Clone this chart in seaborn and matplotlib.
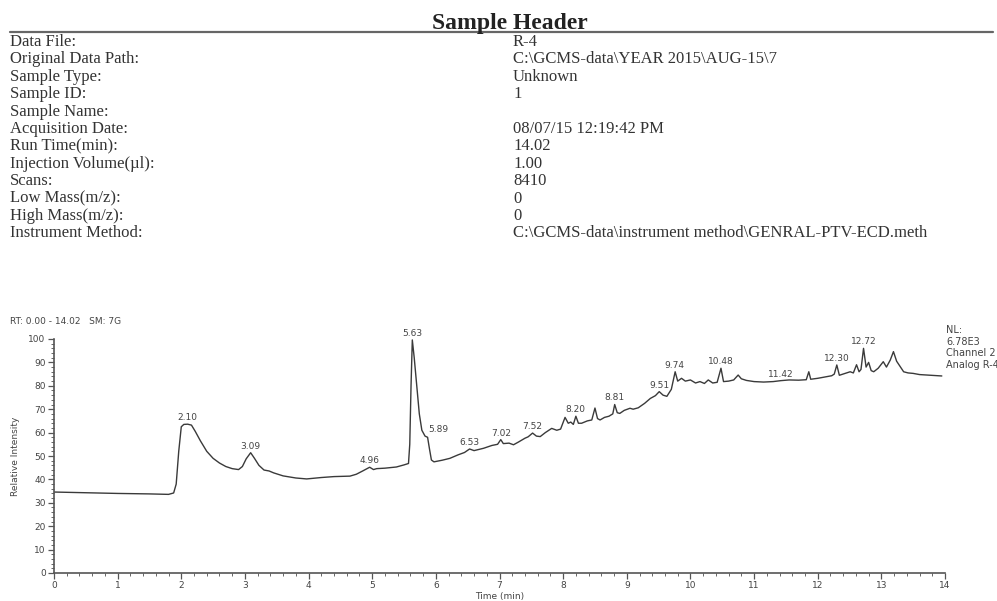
import numpy as np
import pandas as pd
import matplotlib
matplotlib.use("Agg")
import matplotlib.pyplot as plt
from matplotlib.lines import Line2D
from matplotlib.ticker import MultipleLocator
import seaborn as sns

# Sample header fields
header_keys = ["Data File:", "Original Data Path:", "Sample Type:", "Sample ID:",
               "Sample Name:", "Acquisition Date:", "Run Time(min):",
               "Injection Volume(\u00b5l):", "Scans:", "Low Mass(m/z):",
               "High Mass(m/z):", "Instrument Method:"]
header_vals = ["R-4", r"C:\GCMS-data\YEAR 2015\AUG-15\7", "Unknown", "1", "",
               "08/07/15 12:19:42 PM", "14.02", "1.00", "8410", "0", "0",
               r"C:\GCMS-data\instrument method\GENRAL-PTV-ECD.meth"]

# chromatogram trace (time in min, relative intensity)
rt = [0.00, 0.50, 1.00, 1.50, 1.80, 1.88, 1.92, 1.96, 2.00, 2.04, 2.10, 2.16, 2.22,
      2.30, 2.40, 2.50, 2.60, 2.70, 2.80, 2.90, 2.96, 3.02, 3.09, 3.15, 3.22, 3.30,
      3.38, 3.45, 3.60, 3.80, 3.97, 4.20, 4.40, 4.65, 4.75, 4.85, 4.96, 5.02, 5.07,
      5.20, 5.38, 5.50, 5.57, 5.59, 5.61, 5.63, 5.66, 5.70, 5.74, 5.78, 5.83, 5.87,
      5.90, 5.93, 5.97, 6.10, 6.22, 6.35, 6.45, 6.53, 6.60, 6.75, 6.88, 6.97, 7.02,
      7.06, 7.15, 7.22, 7.30, 7.40, 7.45, 7.52, 7.58, 7.64, 7.72, 7.82, 7.90, 7.96,
      8.03, 8.08, 8.12, 8.16, 8.20, 8.24, 8.29, 8.38, 8.45, 8.50, 8.54, 8.58, 8.65,
      8.72, 8.78, 8.81, 8.85, 8.89, 8.96, 9.05, 9.10, 9.18, 9.28, 9.37, 9.45, 9.51,
      9.57, 9.63, 9.70, 9.76, 9.80, 9.86, 9.92, 10.00, 10.08, 10.15, 10.22, 10.28,
      10.35, 10.42, 10.48, 10.52, 10.60, 10.68, 10.75, 10.80, 10.88, 11.00, 11.15,
      11.30, 11.42, 11.55, 11.70, 11.82, 11.86, 11.89, 12.00, 12.14, 12.22, 12.26,
      12.30, 12.34, 12.42, 12.51, 12.56, 12.61, 12.65, 12.68, 12.72, 12.76, 12.80,
      12.84, 12.88, 12.95, 13.03, 13.08, 13.14, 13.19, 13.24, 13.30, 13.35, 13.42,
      13.50, 13.60, 13.71, 13.85, 13.95]
intensity = [34.6, 34.3, 34.0, 33.8, 33.6, 34.2, 38.0, 52.0, 62.5, 63.5, 63.6, 63.2, 60.5,
             56.5, 52.0, 49.0, 47.0, 45.5, 44.6, 44.2, 45.5, 48.8, 51.4, 49.0, 46.0, 44.0,
             43.6, 42.8, 41.5, 40.6, 40.2, 40.8, 41.2, 41.4, 42.2, 43.6, 45.2, 44.2, 44.6,
             44.8, 45.3, 46.2, 46.8, 55.0, 80.0, 99.6, 92.0, 80.0, 68.0, 61.0, 58.5, 58.0,
             53.0, 48.3, 47.5, 48.2, 49.0, 50.5, 51.5, 53.0, 52.3, 53.3, 54.5, 55.0, 57.0,
             55.3, 55.5, 54.8, 56.0, 57.6, 58.2, 59.8, 58.5, 58.3, 60.0, 61.8, 61.0, 61.5,
             66.5, 64.0, 64.5, 63.5, 67.0, 64.0, 64.0, 65.0, 65.4, 70.5, 66.0, 65.4, 66.5,
             67.0, 68.0, 72.0, 68.5, 68.2, 69.5, 70.4, 70.0, 70.6, 72.5, 74.6, 75.8, 77.5,
             76.0, 75.5, 78.5, 86.0, 82.0, 83.2, 82.0, 82.5, 81.2, 81.8, 81.0, 82.5,
             81.2, 81.5, 87.5, 81.8, 82.0, 82.5, 84.6, 83.0, 82.3, 81.8, 81.6,
             81.8, 82.2, 82.5, 82.4, 82.6, 86.0, 82.8, 83.2, 83.9, 84.3, 85.0,
             88.9, 84.5, 85.2, 86.0, 85.5, 89.0, 86.0, 87.0, 96.0, 88.0, 90.0,
             86.5, 86.0, 87.5, 90.3, 88.0, 91.0, 94.6, 90.5, 88.0, 86.0, 85.5,
             85.3, 84.8, 84.6, 84.3, 84.2]

# labelled peaks
peak_times = [2.10, 3.09, 4.96, 5.63, 5.89, 6.53, 7.02, 7.52, 8.20, 8.81,
              9.51, 9.74, 10.48, 11.42, 12.30, 12.72]
peak_labels = ["2.10", "3.09", "4.96", "5.63", "5.89", "6.53", "7.02", "7.52", "8.20",
               "8.81", "9.51", "9.74", "10.48", "11.42", "12.30", "12.72"]

df = pd.DataFrame({"rt": rt, "intensity": intensity})

W, H = 997, 601
sns.set_style("white")
plt.rcParams["font.family"] = ["DejaVu Sans"]

fig = plt.figure(figsize=(W / 100, H / 100), dpi=100)

# ---- header block ----
serif = ["Liberation Serif", "DejaVu Serif"]
fig.text(510 / W, 1 - 29 / H, "Sample Header", ha="center", va="baseline",
         fontsize=17, fontweight="bold", family=serif, color="#222222")
fig.add_artist(Line2D([10 / W, 993 / W], [1 - 32 / H] * 2, color="#666666", lw=1.6))
for i, (k, v) in enumerate(zip(header_keys, header_vals)):
    y = 1 - (42 + i * 17.4) / H
    fig.text(10 / W, y, k, ha="left", va="center", fontsize=12, family=serif, color="#333333")
    fig.text(513 / W, y, v, ha="left", va="center", fontsize=12, family=serif, color="#333333")

# ---- chromatogram ----
ax = fig.add_axes([54 / W, 1 - 573 / H, (945 - 54) / W, (573 - 339) / H])
sns.lineplot(data=df, x="rt", y="intensity", ax=ax, sort=False, color="#3a3a3a",
             linewidth=1.0, estimator=None)
ax.set_xlim(0, 14)
ax.set_ylim(0, 100)
sns.despine(ax=ax)
for s in ["left", "bottom"]:
    ax.spines[s].set_color("#555555")
    ax.spines[s].set_linewidth(1.2)

ax.xaxis.set_major_locator(MultipleLocator(1))
ax.xaxis.set_minor_locator(MultipleLocator(0.2))
ax.yaxis.set_major_locator(MultipleLocator(10))
ax.yaxis.set_minor_locator(MultipleLocator(2))
ax.tick_params(which="major", direction="out", length=4, width=0.9, color="#555555",
               labelsize=6.5, labelcolor="#444444", pad=2, left=True, bottom=True)
ax.tick_params(which="minor", direction="out", length=2.5, width=0.7, color="#666666",
               left=True, bottom=True)
ax.set_xlabel("Time (min)", fontsize=6.5, color="#444444", labelpad=1)
ax.set_ylabel("Relative Intensity", fontsize=6.5, color="#444444", labelpad=6)

t = np.array(rt)
v = np.array(intensity)
for pt, lab in zip(peak_times, peak_labels):
    win = np.abs(t - pt) <= 0.06
    py = v[win].max()
    dx = 7 if lab == "5.89" else 0
    ax.annotate(lab, xy=(pt, py), xytext=(dx, 1.5), textcoords="offset points",
                ha="center", va="bottom", fontsize=6.5, color="#444444", annotation_clip=False)

fig.text(10 / W, 1 - 321 / H, "RT: 0.00 - 14.02   SM: 7G", ha="left", va="center",
         fontsize=6.5, color="#444444")
fig.text(946 / W, 1 - 325 / H, "NL:\n6.78E3\nChannel 2\nAnalog R-4", ha="left", va="top",
         fontsize=7, color="#444444", linespacing=1.2)

fig.savefig("out.png", dpi=100)
